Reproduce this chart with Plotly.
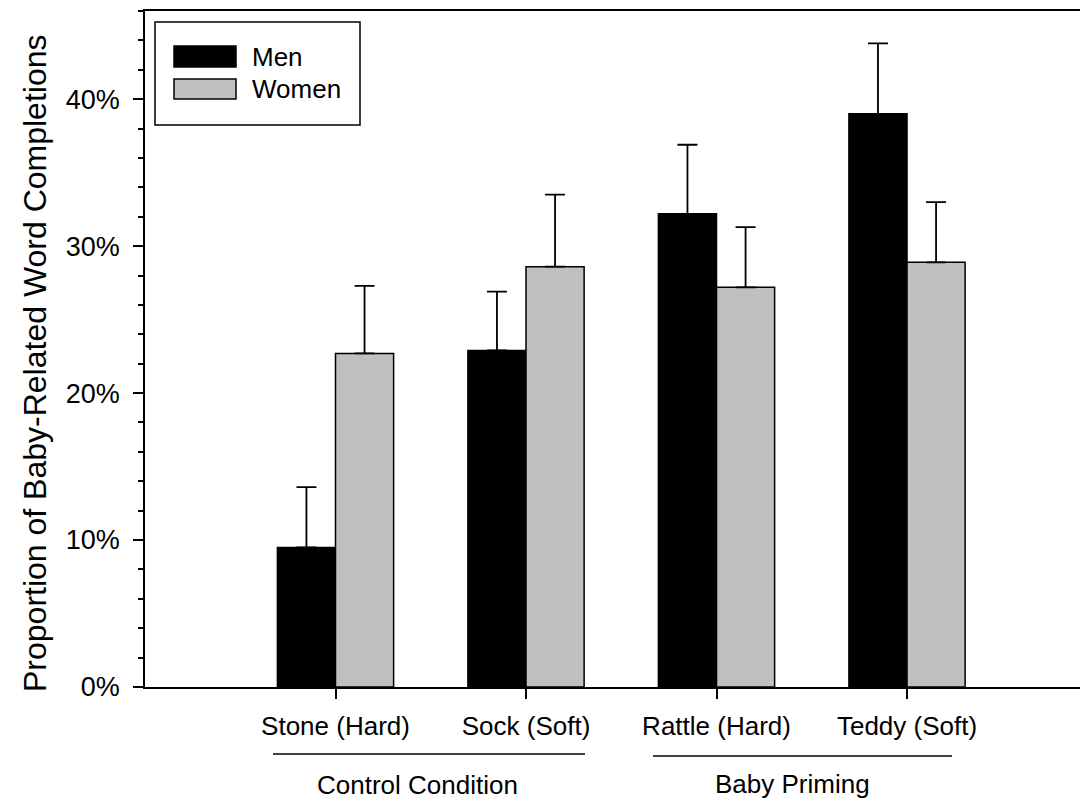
import plotly.graph_objects as go

categories = ["Stone (Hard)", "Sock (Soft)", "Rattle (Hard)", "Teddy (Soft)"]
men = [0.095, 0.229, 0.322, 0.390]
men_err = [0.041, 0.040, 0.047, 0.048]
women = [0.227, 0.286, 0.272, 0.289]
women_err = [0.046, 0.049, 0.041, 0.041]
groups = ["Control Condition", "Baby Priming"]
y_ticks = [0, 0.1, 0.2, 0.3, 0.4]

# page body has an 8px margin; compensate so the plot lands where the reference has it
OFF = 8
W, H = 1088 - OFF, 799 - OFF
L, R, T, B = 145 - OFF, 0, 11 - OFF, 112
PW, PH = W - L - R, H - T - B

def px(x):
    return (x - OFF - L) / PW

def py(y):
    return (H - B - (y - OFF)) / PH

FONT = "Liberation Sans, Arial, sans-serif"

fig = go.Figure()
fig.add_trace(go.Bar(
    x=categories, y=men, name="Men",
    marker=dict(color="black", line=dict(color="black", width=1.5)),
    error_y=dict(type="data", array=men_err, arrayminus=[0]*4, symmetric=False,
                 color="black", thickness=1.8, width=10),
))
fig.add_trace(go.Bar(
    x=categories, y=women, name="Women",
    marker=dict(color="#c0c0c0", line=dict(color="black", width=1.5)),
    error_y=dict(type="data", array=women_err, arrayminus=[0]*4, symmetric=False,
                 color="black", thickness=1.8, width=10),
))

fig.update_layout(
    width=W, height=H,
    margin=dict(l=L, r=R, t=T, b=B, pad=0),
    paper_bgcolor="white", plot_bgcolor="white",
    barmode="group", bargap=0.39, bargroupgap=0,
    showlegend=False,
    font=dict(family=FONT, size=26, color="black"),
)
fig.update_xaxes(
    type="category", range=[-1, 3.95],
    showline=True, linecolor="black", linewidth=1.8, mirror=True,
    ticks="outside", ticklen=10, tickwidth=1.5, tickcolor="black",
    showgrid=False, zeroline=False,
    tickfont=dict(size=26), ticklabelstandoff=5,
)
fig.update_yaxes(
    range=[0, 0.46],
    tickvals=y_ticks, ticktext=[f"{int(v*100)}%" for v in y_ticks],
    showline=True, linecolor="black", linewidth=1.8,
    ticks="outside", ticklen=10, tickwidth=1.5, tickcolor="black",
    minor=dict(dtick=0.02, ticks="outside", ticklen=5, tickwidth=1.5, tickcolor="black"),
    showgrid=False, zeroline=False,
    tickfont=dict(size=27), ticklabelstandoff=8,
)

shapes = []
annotations = []
# legend box
shapes.append(dict(type="rect", xref="paper", yref="paper",
                   x0=px(155), x1=px(360), y0=py(125), y1=py(22),
                   line=dict(color="black", width=1.5), fillcolor="white", layer="above"))
shapes.append(dict(type="rect", xref="paper", yref="paper",
                   x0=px(174), x1=px(236), y0=py(67), y1=py(46),
                   line=dict(color="black", width=1.5), fillcolor="black", layer="above"))
shapes.append(dict(type="rect", xref="paper", yref="paper",
                   x0=px(174), x1=px(236), y0=py(99), y1=py(79),
                   line=dict(color="black", width=1.5), fillcolor="#c0c0c0", layer="above"))
annotations.append(dict(text="Men", xref="paper", yref="paper", x=px(250), y=py(57),
                        xanchor="left", yanchor="middle", showarrow=False, font=dict(size=26)))
annotations.append(dict(text="Women", xref="paper", yref="paper", x=px(250), y=py(89),
                        xanchor="left", yanchor="middle", showarrow=False, font=dict(size=26)))

# group lines and labels
for (x0, x1, yl, xc, yt), g in zip([(273, 585, 754, 417, 785), (653, 952, 756, 792, 784)], groups):
    shapes.append(dict(type="line", xref="paper", yref="paper",
                       x0=px(x0), x1=px(x1), y0=py(yl), y1=py(yl),
                       line=dict(color="black", width=1.5)))
    annotations.append(dict(text=g, xref="paper", yref="paper", x=px(xc), y=py(yt),
                            xanchor="center", yanchor="middle", showarrow=False, font=dict(size=26)))

# y-axis title
annotations.append(dict(text="Proportion of Baby-Related Word Completions",
                        xref="paper", yref="paper", x=px(35), y=py(363),
                        xanchor="center", yanchor="middle", textangle=-90,
                        showarrow=False, font=dict(size=32)))

fig.update_layout(shapes=shapes, annotations=annotations)
fig.write_html("out.html")
